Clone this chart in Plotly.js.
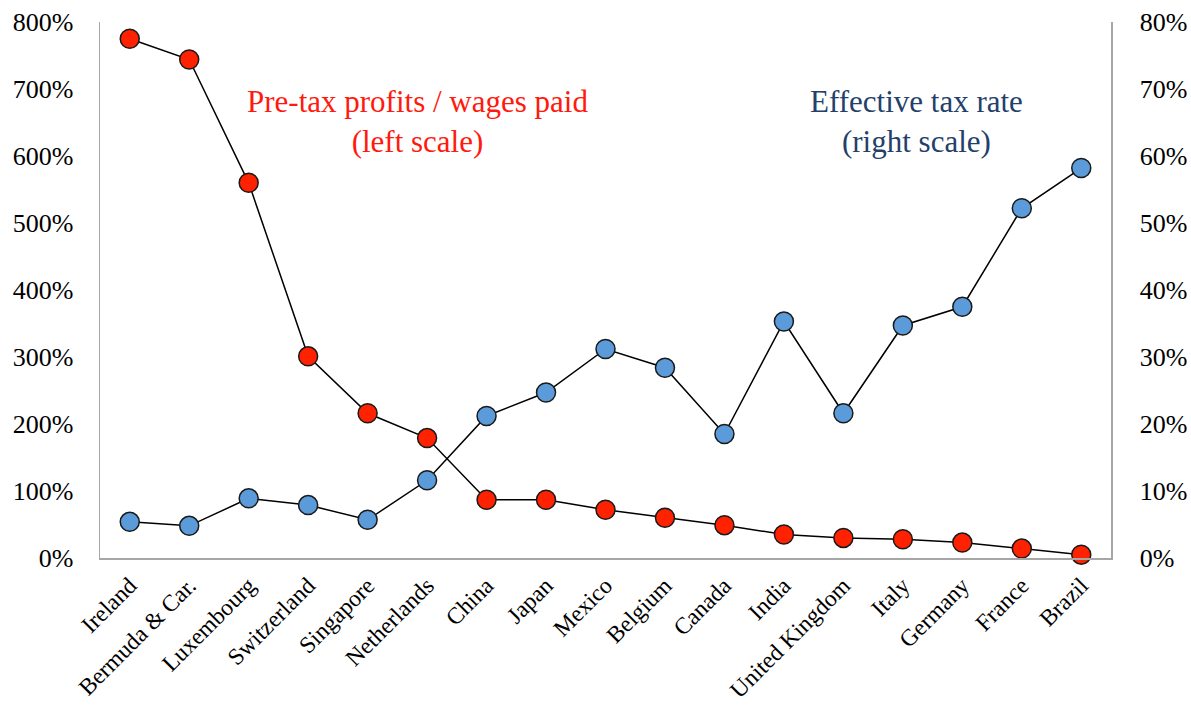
<!DOCTYPE html>
<html>
<head>
<meta charset="utf-8">
<script src="https://cdn.plot.ly/plotly-3.0.1.min.js"></script>
<style>html,body{margin:0;padding:0;background:#fff;}#chart{width:1191px;height:709px;}</style>
</head>
<body>
<div id="chart"></div>
<script>
const countries = ["Ireland","Bermuda & Car.","Luxembourg","Switzerland","Singapore","Netherlands","China","Japan","Mexico","Belgium","Canada","India","United Kingdom","Italy","Germany","France","Brazil"];
const profitsToWages = [775,744,560,301,216,179,87,87,72,60,49,35,30,28,23,14,5];
const effectiveTaxRate = [5.4,4.8,8.9,7.9,5.7,11.6,21.2,24.7,31.2,28.4,18.5,35.3,21.6,34.7,37.5,52.2,58.2];

const FONT = "Liberation Serif, DejaVu Serif, serif";

const traces = [
  {
    x: countries, y: effectiveTaxRate, yaxis: "y2", type: "scatter", mode: "lines+markers",
    line: {color: "#000", width: 1.5},
    marker: {size: 19, color: "#5b9bd9", line: {color: "#1a1a1a", width: 1.5}},
    hoverinfo: "none", cliponaxis: false
  },
  {
    x: countries, y: profitsToWages, type: "scatter", mode: "lines+markers",
    line: {color: "#000", width: 1.5},
    marker: {size: 19, color: "#ff2200", line: {color: "#1a1a1a", width: 1.5}},
    hoverinfo: "none", cliponaxis: false
  }
];

const layout = {
  width: 1191, height: 709,
  margin: {l: 100, r: 80, t: 22, b: 151},
  paper_bgcolor: "#fff", plot_bgcolor: "#fff",
  showlegend: false,
  font: {family: FONT, color: "#000", size: 24},
  xaxis: {
    type: "category", range: [-0.5, 16.5], tickangle: -45, showgrid: false, zeroline: false,
    showline: true, linecolor: "#a6a6a6", linewidth: 1.5,
    ticks: "outside", ticklen: 3, tickcolor: "rgba(0,0,0,0)",
    tickfont: {family: FONT, size: 23.5, color: "#000"}
  },
  yaxis: {
    range: [0, 800], dtick: 100, ticksuffix: "%", showgrid: false, zeroline: false,
    showline: true, linecolor: "#a6a6a6", linewidth: 1.5,
    ticks: "outside", ticklen: 20, tickcolor: "rgba(0,0,0,0)",
    tickfont: {family: FONT, size: 26, color: "#000"}
  },
  yaxis2: {
    range: [0, 80], dtick: 10, ticksuffix: "%", overlaying: "y", side: "right",
    showgrid: false, zeroline: false, showline: true, linecolor: "#a6a6a6", linewidth: 1.5,
    ticks: "outside", ticklen: 22, tickcolor: "rgba(0,0,0,0)",
    tickfont: {family: FONT, size: 26, color: "#000"}
  },
  annotations: [
    {xref: "paper", yref: "paper", x: 0.3136, y: 0.815, xanchor: "center", yanchor: "middle",
     text: "Pre-tax profits / wages paid<br>(left scale)", showarrow: false,
     font: {family: FONT, size: 31, color: "#ff1a0d"}},
    {xref: "paper", yref: "paper", x: 0.808, y: 0.815, xanchor: "center", yanchor: "middle",
     text: "Effective tax rate<br>(right scale)", showarrow: false,
     font: {family: FONT, size: 31, color: "#243f6b"}}
  ]
};

Plotly.newPlot("chart", traces, layout, {staticPlot: true, displayModeBar: false});
</script>
</body>
</html>
